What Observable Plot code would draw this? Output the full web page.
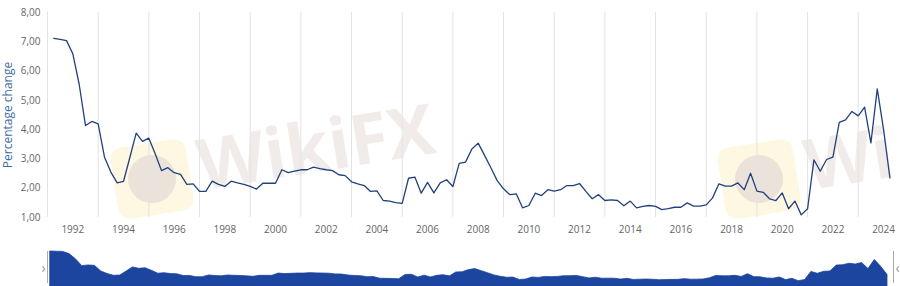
<!DOCTYPE html>
<html>
<head>
<meta charset="utf-8">
<script src="https://cdn.jsdelivr.net/npm/d3@7"></script>
<script src="https://cdn.jsdelivr.net/npm/@observablehq/plot@0.6"></script>
<style>
  body { margin: 0; background: #fff; font-family: "Open Sans", sans-serif; }
  #wrap { position: relative; width: 900px; height: 286px; overflow: hidden; }
  .wm { position: absolute; z-index: 0; pointer-events: none; }
  .logo { width: 76px; height: 72px; border-radius: 12px; background: rgba(253, 234, 180, 0.4); transform: rotate(-9deg); }
  .logo::after { content: ""; position: absolute; left: 14px; top: 12px; width: 48px; height: 48px; border-radius: 50%; background: rgba(185, 175, 200, 0.28); }
  .wmtext { font: bold 70px "Open Sans", sans-serif; color: rgba(222, 210, 206, 0.42); transform: rotate(-9deg); transform-origin: left bottom; white-space: nowrap; line-height: 1; }
  .plotbox { position: absolute; left: 0; z-index: 1; }
</style>
</head>
<body>
<div id="wrap">
  <div class="wm logo" style="left:114px;top:143px"></div>
  <div class="wm wmtext" style="left:203px;top:128px">WikiFX</div>
  <div class="wm logo" style="left:721px;top:143px"></div>
  <div class="wm wmtext" style="left:810px;top:128px">Wi</div>
  <div id="main" class="plotbox" style="top:0"></div>
  <div id="nav" class="plotbox" style="top:240px"></div>
</div>
<script>
// Quarterly series, first observation 1991 Q2
const startYear = 1991.25;
const values = [
  7.12, 7.08, 7.04, 6.59, 5.55, 4.14, 4.28, 4.20, 3.06, 2.55,
  2.18, 2.23, 3.05, 3.88, 3.60, 3.71, 3.18, 2.60, 2.70, 2.53,
  2.47, 2.13, 2.15, 1.89, 1.89, 2.24, 2.13, 2.06, 2.24, 2.18,
  2.13, 2.06, 1.97, 2.17, 2.17, 2.17, 2.63, 2.53, 2.58, 2.63,
  2.63, 2.72, 2.67, 2.63, 2.60, 2.46, 2.43, 2.22, 2.15, 2.09,
  1.89, 1.91, 1.58, 1.56, 1.51, 1.48, 2.34, 2.38, 1.83, 2.20,
  1.84, 2.18, 2.29, 2.06, 2.85, 2.89, 3.34, 3.54, 3.12, 2.70,
  2.26, 1.98, 1.78, 1.81, 1.33, 1.41, 1.83, 1.75, 1.95, 1.90,
  1.95, 2.09, 2.09, 2.16, 1.89, 1.64, 1.78, 1.58, 1.60, 1.58,
  1.40, 1.56, 1.33, 1.38, 1.41, 1.38, 1.27, 1.30, 1.35, 1.35,
  1.50, 1.39, 1.39, 1.43, 1.67, 2.15, 2.07, 2.07, 2.18, 1.95,
  2.51, 1.90, 1.86, 1.64, 1.58, 1.84, 1.30, 1.56, 1.09, 1.30,
  2.97, 2.58, 2.98, 3.06, 4.25, 4.33, 4.62, 4.47, 4.77, 3.55,
  5.39, 4.00, 2.35
];
const tickYears = [1992, 1994, 1996, 1998, 2000, 2002, 2004, 2006, 2008, 2010, 2012, 2014, 2016, 2018, 2020, 2022, 2024];
const gridYears = [1991, 1993, 1995, 1997, 1999, 2001, 2003, 2005, 2007, 2009, 2011, 2013, 2015, 2017, 2019, 2021, 2023];
const yTicks = [1, 2, 3, 4, 5, 6, 7, 8];
const yLabel = "Percentage change";

const data = values.map((v, i) => ({t: startYear + i * 0.25, v}));
const fmt = d => d.toFixed(2).replace(".", ",");

const main = Plot.plot({
  width: 900, height: 240,
  marginTop: 12, marginBottom: 23, marginLeft: 47, marginRight: 5,
  style: {background: "transparent", fontFamily: "Open Sans, sans-serif", fontSize: "10px"},
  x: {domain: [1991, 2024.47], axis: null},
  y: {domain: [1, 8], axis: null},
  marks: [
    Plot.ruleX(gridYears, {stroke: "#e3e3e3", strokeWidth: 1}),
    Plot.axisX(tickYears, {tickSize: 0, tickPadding: 8, tickFormat: d => String(d), label: null, color: "#666"}),
    Plot.axisY(yTicks, {tickSize: 0, tickPadding: 7, tickFormat: fmt, label: null, color: "#666"}),
    Plot.text([yLabel], {frameAnchor: "left", textAnchor: "middle", rotate: -90, dx: -39, fill: "#3c6ca3", fontSize: 12}),
    Plot.line(data, {x: "t", y: "v", stroke: "#22407d", strokeWidth: 1.3})
  ]
});
document.getElementById("main").appendChild(main);

const ext = d3.extent(data, d => d.t);
const nav = Plot.plot({
  width: 900, height: 46,
  marginTop: 11, marginBottom: 0, marginLeft: 50, marginRight: 13,
  style: {background: "transparent", fontFamily: "Open Sans, sans-serif"},
  x: {domain: ext, axis: null},
  y: {domain: [0, 7.12], axis: null},
  marks: [
    Plot.areaY(data, {x: "t", y: "v", fill: "#1b459e", stroke: "#1b459e", strokeWidth: 0.8}),
    Plot.ruleX([ext[0]], {dx: -3, y1: 0, y2: 7.12, stroke: "#aaa", insetTop: -3}),
    Plot.ruleX([ext[1]], {dx: 6, y1: 0, y2: 7.12, stroke: "#aaa", insetTop: -3}),
    Plot.text([ext[0]], {x: d => d, frameAnchor: "middle", dx: -7, text: () => "›", fill: "#999", fontSize: 14}),
    Plot.text([ext[1]], {x: d => d, frameAnchor: "middle", dx: 10, text: () => "‹", fill: "#999", fontSize: 14})
  ]
});
document.getElementById("nav").appendChild(nav);
</script>
</body>
</html>
